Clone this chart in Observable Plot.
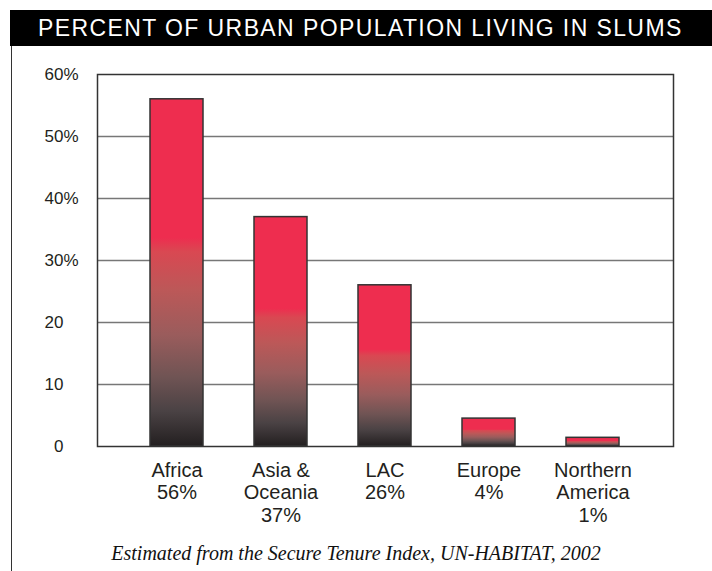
<!DOCTYPE html>
<html>
<head>
<meta charset="utf-8">
<script src="https://cdn.jsdelivr.net/npm/d3@7"></script>
<script src="https://cdn.jsdelivr.net/npm/@observablehq/plot@0.6"></script>
<style>
  html, body { margin: 0; padding: 0; background: #fff; }
  body { width: 712px; height: 571px; position: relative; overflow: hidden; font-family: "Liberation Sans", Arial, sans-serif; }
  #title { position: absolute; left: 10px; top: 10px; width: 702px; height: 36px; background: #000; color: #fff;
           font-size: 23px; letter-spacing: 1.4px; line-height: 37px; padding-left: 28px; box-sizing: border-box; white-space: nowrap; }
  #leftline { position: absolute; left: 11px; top: 46px; width: 0; height: 525px; border-left: 1.5px solid #333; }
  #chart { position: absolute; left: 0; top: 46px; }
  #caption { position: absolute; left: 0; width: 712px; top: 542px; text-align: center;
             font-family: "Liberation Serif", "Times New Roman", serif; font-style: italic; font-size: 20px; color: #111; }
</style>
</head>
<body>
<div id="title">PERCENT OF URBAN POPULATION LIVING IN SLUMS</div>
<div id="leftline"></div>
<div id="chart"></div>
<div id="caption">Estimated from the Secure Tenure Index, UN-HABITAT, 2002</div>
<script>
// Data
const regions = ["Africa", "Asia &\nOceania", "LAC", "Europe", "Northern\nAmerica"];
const values = [56, 37, 26, 4.5, 1.4];
const valueLabels = ["56%", "37%", "26%", "4%", "1%"];
const yTicks = [0, 10, 20, 30, 40, 50, 60];
const yPercentTicks = [30, 40, 50, 60];
const gridTicks = [10, 20, 30, 40, 50];

const data = regions.map((r, i) => ({region: r, value: values[i], label: valueLabels[i]}));
const labelOf = new Map(data.map(d => [d.region, d.region + "\n" + d.label]));

const plot = Plot.plot({
  width: 712,
  height: 490,
  marginTop: 28,
  marginBottom: 90,
  marginLeft: 97,
  marginRight: 39,
  style: {fontFamily: "'Liberation Sans', Arial, sans-serif", color: "#231F20", background: "transparent"},
  x: {domain: regions, padding: 0.486, label: null},
  y: {domain: [0, 60], label: null},
  marks: [
    Plot.ruleY(gridTicks, {stroke: "#777", strokeWidth: 1.5}),
    Plot.barY(data, {x: "region", y: "value", fill: "url(#slumGrad)", stroke: "#333", strokeWidth: 1.5}),
    Plot.frame({stroke: "#333", strokeWidth: 1.5}),
    Plot.axisY(yTicks, {tickSize: 0, tickPadding: 34, tickFormat: d => `${d}`, fontSize: 17, label: null}),
    Plot.text(yPercentTicks, {y: d => d, text: () => "%", frameAnchor: "left", dx: -34, textAnchor: "start", fontSize: 17, fill: "#231F20"}),
    Plot.axisX({tickSize: 0, tickPadding: 14, tickFormat: d => labelOf.get(d), fontSize: 20, lineHeight: 1.14, label: null})
  ]
});

// gradient definition used by the bars
const svg = d3.select(plot);
const defs = svg.insert("defs", ":first-child");
const grad = defs.append("linearGradient").attr("id", "slumGrad")
  .attr("x1", 0).attr("y1", 0).attr("x2", 0).attr("y2", 1);
[[0, "#EE2D4F"], [0.40, "#EE2D4F"], [0.44, "#D94852"], [0.55, "#BC5858"], [0.68, "#9A5C5C"],
 [0.80, "#705454"], [0.90, "#4A4244"], [1, "#231F20"]].forEach(([o, c]) =>
  grad.append("stop").attr("offset", o).attr("stop-color", c));

document.getElementById("chart").appendChild(plot);
</script>
</body>
</html>
